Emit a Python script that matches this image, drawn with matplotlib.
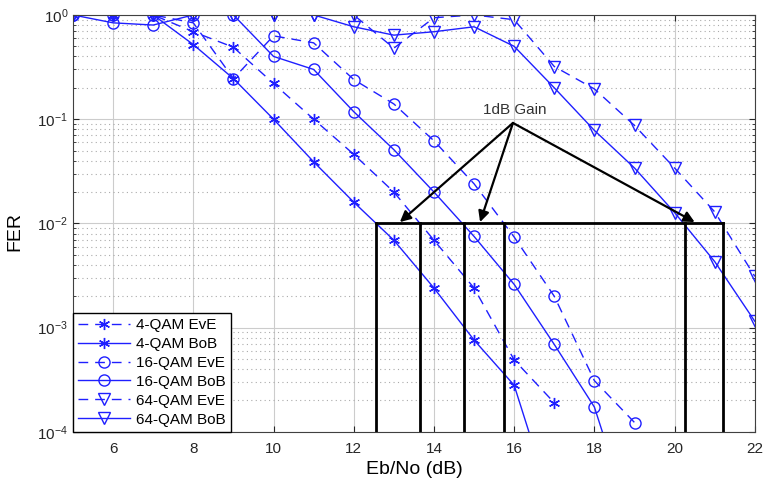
import numpy as np
import matplotlib
matplotlib.use("Agg")
import matplotlib.pyplot as plt

plt.rcParams['font.family'] = ['Liberation Sans', 'DejaVu Sans']
plt.rcParams['mathtext.fontset'] = 'custom'
plt.rcParams['mathtext.rm'] = 'Liberation Sans'
plt.rcParams['mathtext.it'] = 'Liberation Sans:italic'

# Eb/No points (dB)
snr_4 = np.arange(5, 18)
snr_16 = np.arange(5, 20)
snr_64 = np.arange(5, 23)

qam4_eve = [1, 1, 1, 0.69, 0.49, 0.22, 0.10, 0.046, 0.020, 0.0069, 0.0024, 0.00049, 0.00019]
qam4_bob = [1, 1, 1, 0.52, 0.245, 0.10, 0.039, 0.016, 0.0069, 0.0024, 0.00076, 0.00028, 1.7e-5]

qam16_eve = [1, 1, 1, 0.84, 0.245, 0.63, 0.54, 0.24, 0.14, 0.062, 0.024, 0.0074, 0.0020,
             0.00031, 0.000123]
qam16_bob = [1, 0.84, 0.80, 1, 1, 0.40, 0.30, 0.118, 0.051, 0.020, 0.0075, 0.0026, 0.00069,
             0.000173, 1.1e-5]

qam64_eve = [1, 1, 1, 1, 1, 1, 1, 1.0, 0.48, 0.94, 1.0, 0.90, 0.32, 0.195, 0.087, 0.034,
             0.0129, 0.0031]
qam64_bob = [1, 1, 1, 1, 1, 1, 1, 0.77, 0.64, 0.69, 0.77, 0.50, 0.20, 0.078, 0.034, 0.0127,
             0.0043, 0.00115]

labels = ['4-QAM EvE', '4-QAM BoB', '16-QAM EvE', '16-QAM BoB', '64-QAM EvE', '64-QAM BoB']

# where the curves cross FER = 1e-2
target_fer = 0.01
cross_x = [12.56, 13.65, 14.75, 15.75, 20.26, 21.21]
# "1dB Gain" arrows
gain_from = (15.97, 0.092)
gain_to = [13.15, 15.15, 20.5]

fig = plt.figure(figsize=(7.64, 4.82), dpi=100)
ax = fig.add_axes([0.0955, 0.104, 0.8925, 0.865])

asterisk = (6, 2, 0)
dash = (0, (7, 5))
blue = '#1f1fff'

ax.semilogy(snr_4, qam4_eve, color=blue, ls=dash, lw=1, marker=asterisk, ms=8, mew=1, label=labels[0])
ax.semilogy(snr_4, qam4_bob, color=blue, ls='-', lw=1, marker=asterisk, ms=8, mew=1, label=labels[1])
ax.semilogy(snr_16, qam16_eve, color=blue, ls=dash, lw=1, marker='o', ms=8, mfc='none', mew=1, label=labels[2])
ax.semilogy(snr_16, qam16_bob, color=blue, ls='-', lw=1, marker='o', ms=8, mfc='none', mew=1, label=labels[3])
ax.semilogy(snr_64, qam64_eve, color=blue, ls=dash, lw=1, marker='v', ms=8, mfc='none', mew=1, label=labels[4])
ax.semilogy(snr_64, qam64_bob, color=blue, ls='-', lw=1, marker='v', ms=8, mfc='none', mew=1, label=labels[5])

# black box lines
ax.plot([min(cross_x), max(cross_x)], [target_fer, target_fer], color='k', lw=2)
for cx in cross_x:
    ax.plot([cx, cx], [1e-4, target_fer], color='k', lw=2)

for gx in gain_to:
    ax.annotate('', xy=(gx, target_fer * 1.03), xytext=gain_from,
                arrowprops=dict(arrowstyle='-|>', color='k', lw=1.6, mutation_scale=16,
                                shrinkA=0, shrinkB=0))
ax.text(16.02, 0.123, '1dB Gain', ha='center', va='center', fontsize=11, color='#333333')

ax.set_xlim(5, 22)
ax.set_ylim(1e-4, 1)
ax.set_xticks(range(6, 23, 2))
ax.set_xlabel('Eb/No (dB)', fontsize=14, labelpad=4)
ax.set_ylabel('FER', fontsize=14)
ax.yaxis.set_label_coords(-0.072, 0.48)

ax.grid(True, which='major', color='#cccccc', ls='-', lw=0.8)
ax.grid(True, which='minor', axis='y', color='#aaaaaa', ls=(0, (1, 3)), lw=0.8)
ax.tick_params(which='both', direction='in', top=True, right=True, labelsize=11,
               colors='#262626')
ax.tick_params(axis='x', pad=7)
ax.tick_params(which='major', length=4)
ax.tick_params(which='minor', length=2)
for sp in ax.spines.values():
    sp.set_color('#404040')

leg = ax.legend(loc='lower left', bbox_to_anchor=(0, 0), borderaxespad=0, fontsize=11,
                fancybox=False, edgecolor='k', framealpha=1, handlelength=3.4,
                labelspacing=0.32, borderpad=0.35, handletextpad=0.4)
leg.get_frame().set_linewidth(1)

fig.savefig('out.png', dpi=100)
